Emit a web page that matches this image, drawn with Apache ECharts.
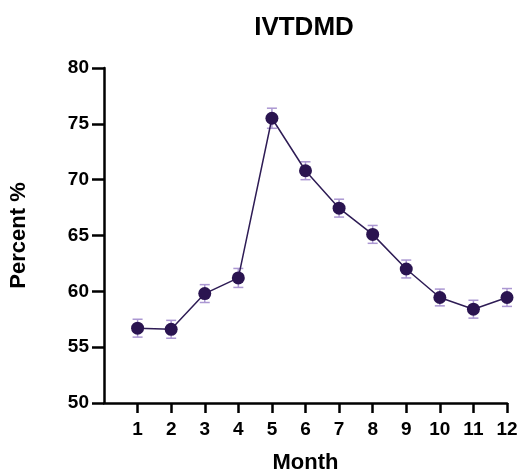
<!DOCTYPE html>
<html>
<head>
<meta charset="utf-8">
<script src="https://cdn.jsdelivr.net/npm/echarts@6/dist/echarts.min.js"></script>
<style>
  html, body { margin: 0; padding: 0; background: #fff; }
  #chart { width: 517px; height: 473px; }
</style>
</head>
<body>
<div id="chart"></div>
<script>
// monthly means with error (+/-)
const months = [1, 2, 3, 4, 5, 6, 7, 8, 9, 10, 11, 12];
const values = [56.7, 56.6, 59.8, 61.2, 75.5, 70.8, 67.45, 65.1, 62.0, 59.45, 58.4, 59.45];
const errors = [0.8, 0.8, 0.8, 0.85, 0.9, 0.8, 0.8, 0.8, 0.8, 0.75, 0.8, 0.8];
const yTicks = [50, 55, 60, 65, 70, 75, 80];

const fontFamily = 'Liberation Sans, Arial, sans-serif';
const lineColor = '#2e1c55';
const dotColor = '#2a1450';
const errColor = '#ab97d2';

const points = months.map((m, i) => [m, values[i]]);
const errData = months.map((m, i) => [m, values[i] - errors[i], values[i] + errors[i]]);

const chart = echarts.init(document.getElementById('chart'));

chart.setOption({
  animation: false,
  title: {
    text: 'IVTDMD',
    left: 299,
    top: 10,
    textAlign: 'center',
    textStyle: { fontFamily, fontSize: 26, fontWeight: 'bold', color: '#000' }
  },
  grid: { left: 104, right: 10, top: 68, bottom: 70, outerBoundsMode: 'none' },
  xAxis: {
    type: 'value',
    min: 0,
    max: 12,
    interval: 1,
    name: 'Month',
    nameLocation: 'middle',
    nameGap: 49,
    nameTextStyle: { fontFamily, fontSize: 22, fontWeight: 'bold', color: '#000' },
    axisLine: { onZero: false, lineStyle: { color: '#000', width: 2.5 } },
    axisTick: { customValues: months, length: 10, lineStyle: { color: '#000', width: 2.5 } },
    axisLabel: {
      customValues: months,
      margin: 17,
      fontFamily, fontSize: 19, fontWeight: 'bold', color: '#000'
    },
    splitLine: { show: false }
  },
  yAxis: {
    type: 'value',
    min: 50,
    max: 80,
    interval: 5,
    name: 'Percent %',
    nameLocation: 'middle',
    nameGap: 74,
    nameTextStyle: { fontFamily, fontSize: 22, fontWeight: 'bold', color: '#000' },
    axisLine: { show: true, lineStyle: { color: '#000', width: 2.5 } },
    axisTick: { show: true, customValues: yTicks, length: 12, lineStyle: { color: '#000', width: 2.5 } },
    axisLabel: {
      customValues: yTicks,
      margin: 15,
      fontFamily, fontSize: 19, fontWeight: 'bold', color: '#000'
    },
    splitLine: { show: false }
  },
  series: [
    {
      type: 'custom',
      z: 1,
      data: errData,
      encode: { x: 0, y: [1, 2] },
      renderItem: function (params, api) {
        const x = api.value(0);
        const lo = api.coord([x, api.value(1)]);
        const hi = api.coord([x, api.value(2)]);
        const cap = 5;
        const style = { stroke: errColor, lineWidth: 1.5 };
        return {
          type: 'group',
          children: [
            { type: 'line', shape: { x1: lo[0], y1: lo[1], x2: hi[0], y2: hi[1] }, style },
            { type: 'line', shape: { x1: lo[0] - cap, y1: lo[1], x2: lo[0] + cap, y2: lo[1] }, style },
            { type: 'line', shape: { x1: hi[0] - cap, y1: hi[1], x2: hi[0] + cap, y2: hi[1] }, style }
          ]
        };
      }
    },
    {
      type: 'line',
      z: 2,
      data: points,
      symbol: 'circle',
      symbolSize: 13,
      lineStyle: { color: lineColor, width: 1.5 },
      itemStyle: { color: dotColor }
    }
  ]
});
</script>
</body>
</html>
